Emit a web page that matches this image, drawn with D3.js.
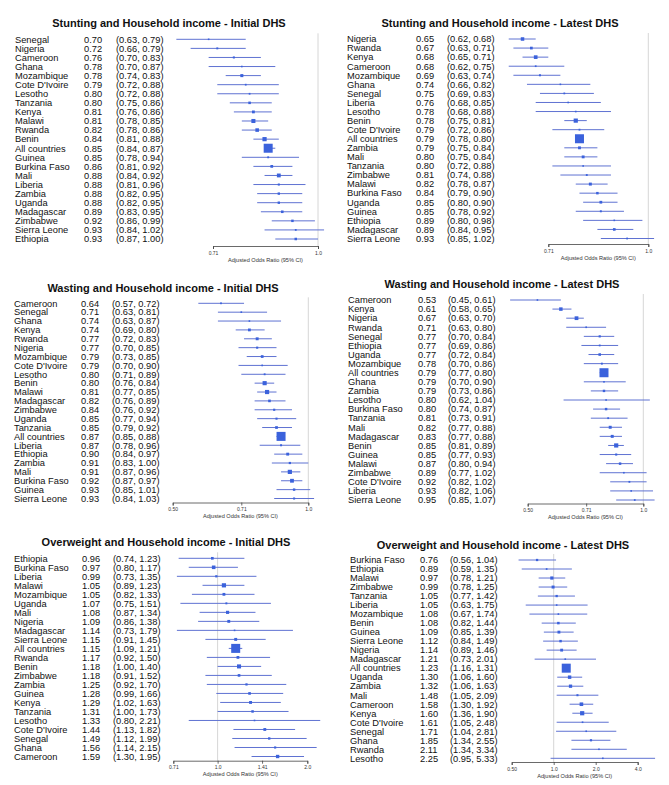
<!DOCTYPE html>
<html><head><meta charset="utf-8">
<script src="https://cdn.jsdelivr.net/npm/d3@7/dist/d3.min.js"></script>
<style>
html,body{margin:0;padding:0;background:#fff;}
svg{display:block;font-family:"Liberation Sans",Arial,sans-serif;}
</style></head>
<body><svg id="chart" width="669" height="785"></svg>
<script>
// ---------- DATA ----------
const stuntInitCountries = ["Senegal","Nigeria","Cameroon","Ghana","Mozambique","Cote D'Ivoire","Lesotho","Tanzania","Kenya","Malawi","Rwanda","Benin","All countries","Guinea","Burkina Faso","Mali","Liberia","Zambia","Uganda","Madagascar","Zimbabwe","Sierra Leone","Ethiopia"];
const stuntInitOR = [0.70,0.72,0.76,0.78,0.78,0.79,0.80,0.80,0.81,0.81,0.82,0.84,0.85,0.85,0.86,0.88,0.88,0.88,0.88,0.89,0.92,0.93,0.93];
const stuntInitLo = [0.63,0.66,0.70,0.70,0.74,0.72,0.72,0.75,0.76,0.78,0.78,0.81,0.84,0.78,0.81,0.84,0.81,0.82,0.82,0.83,0.86,0.84,0.87];
const stuntInitHi = [0.79,0.79,0.83,0.87,0.83,0.88,0.88,0.86,0.86,0.85,0.86,0.88,0.87,0.94,0.92,0.92,0.96,0.95,0.95,0.95,0.99,1.02,1.00];

const stuntLateCountries = ["Nigeria","Rwanda","Kenya","Cameroon","Mozambique","Ghana","Senegal","Liberia","Lesotho","Benin","Cote D'Ivoire","All countries","Zambia","Mali","Tanzania","Zimbabwe","Malawi","Burkina Faso","Uganda","Guinea","Ethiopia","Madagascar","Sierra Leone"];
const stuntLateOR = [0.65,0.67,0.68,0.68,0.69,0.74,0.75,0.76,0.78,0.78,0.79,0.79,0.79,0.80,0.80,0.81,0.82,0.84,0.85,0.85,0.89,0.89,0.93];
const stuntLateLo = [0.62,0.63,0.65,0.62,0.63,0.66,0.69,0.68,0.68,0.75,0.72,0.78,0.75,0.75,0.72,0.74,0.78,0.79,0.80,0.78,0.80,0.84,0.85];
const stuntLateHi = [0.68,0.71,0.71,0.75,0.74,0.82,0.83,0.85,0.88,0.81,0.86,0.80,0.84,0.84,0.88,0.88,0.87,0.90,0.90,0.92,0.98,0.95,1.02];

const wasteInitCountries = ["Cameroon","Senegal","Ghana","Kenya","Rwanda","Nigeria","Mozambique","Cote D'Ivoire","Lesotho","Benin","Malawi","Madagascar","Zimbabwe","Uganda","Tanzania","All countries","Liberia","Ethiopia","Zambia","Mali","Burkina Faso","Guinea","Sierra Leone"];
const wasteInitOR = [0.64,0.71,0.74,0.74,0.77,0.77,0.79,0.79,0.80,0.80,0.81,0.82,0.84,0.85,0.85,0.87,0.87,0.90,0.91,0.91,0.92,0.93,0.93];
const wasteInitLo = [0.57,0.63,0.63,0.69,0.72,0.70,0.73,0.70,0.71,0.76,0.77,0.76,0.76,0.77,0.79,0.85,0.78,0.84,0.83,0.87,0.87,0.85,0.84];
const wasteInitHi = [0.72,0.81,0.87,0.80,0.83,0.85,0.85,0.90,0.89,0.84,0.85,0.89,0.92,0.94,0.92,0.88,0.96,0.97,1.00,0.96,0.97,1.01,1.03];

const wasteLateCountries = ["Cameroon","Kenya","Nigeria","Rwanda","Senegal","Ethiopia","Uganda","Mozambique","All countries","Ghana","Zambia","Lesotho","Burkina Faso","Tanzania","Mali","Madagascar","Benin","Guinea","Malawi","Zimbabwe","Cote D'Ivoire","Liberia","Sierra Leone"];
const wasteLateOR = [0.53,0.61,0.67,0.71,0.77,0.77,0.77,0.78,0.79,0.79,0.79,0.80,0.80,0.81,0.82,0.83,0.85,0.85,0.87,0.89,0.92,0.93,0.95];
const wasteLateLo = [0.45,0.58,0.63,0.63,0.70,0.69,0.72,0.70,0.77,0.70,0.73,0.62,0.74,0.73,0.77,0.77,0.81,0.77,0.80,0.77,0.82,0.82,0.85];
const wasteLateHi = [0.61,0.65,0.70,0.80,0.84,0.86,0.84,0.86,0.80,0.90,0.86,1.04,0.87,0.91,0.88,0.88,0.89,0.93,0.94,1.02,1.02,1.06,1.07];

const overInitCountries = ["Ethiopia","Burkina Faso","Liberia","Malawi","Mozambique","Uganda","Mali","Nigeria","Madagascar","Sierra Leone","All countries","Rwanda","Benin","Zimbabwe","Zambia","Guinea","Kenya","Tanzania","Lesotho","Cote D'Ivoire","Senegal","Ghana","Cameroon"];
const overInitOR = [0.96,0.97,0.99,1.05,1.05,1.07,1.08,1.09,1.14,1.15,1.15,1.17,1.18,1.18,1.25,1.28,1.29,1.31,1.33,1.44,1.49,1.56,1.59];
const overInitLo = [0.74,0.80,0.73,0.89,0.82,0.75,0.87,0.86,0.73,0.91,1.09,0.92,1.00,0.91,0.92,0.99,1.02,1.00,0.80,1.13,1.12,1.14,1.30];
const overInitHi = [1.23,1.17,1.35,1.23,1.33,1.51,1.34,1.38,1.79,1.45,1.21,1.50,1.40,1.52,1.70,1.66,1.63,1.73,2.21,1.82,1.99,2.15,1.95];

const overLateCountries = ["Burkina Faso","Ethiopia","Malawi","Zimbabwe","Tanzania","Liberia","Mozambique","Benin","Guinea","Sierra Leone","Nigeria","Madagascar","All countries","Uganda","Zambia","Mali","Cameroon","Kenya","Cote D'Ivoire","Senegal","Ghana","Rwanda","Lesotho"];
const overLateOR = [0.76,0.89,0.97,0.99,1.05,1.05,1.08,1.08,1.09,1.12,1.14,1.21,1.23,1.30,1.32,1.48,1.58,1.60,1.61,1.71,1.85,2.11,2.25];
const overLateLo = [0.56,0.59,0.78,0.78,0.77,0.63,0.67,0.82,0.85,0.84,0.89,0.73,1.16,1.06,1.06,1.05,1.30,1.36,1.05,1.04,1.34,1.34,0.95];
const overLateHi = [1.04,1.35,1.21,1.25,1.42,1.75,1.74,1.44,1.39,1.49,1.46,2.01,1.31,1.60,1.63,2.09,1.92,1.90,2.48,2.81,2.55,3.34,5.33];

const titles = [
  "Stunting and Household income - Initial DHS",
  "Stunting and Household income - Latest DHS",
  "Wasting and Household income - Initial DHS",
  "Wasting and Household income - Latest DHS",
  "Overweight and Household income - Initial DHS",
  "Overweight and Household income - Latest DHS"
];
const stuntTicks = [0.71, 1.0];
const wasteTicks = [0.50, 0.71, 1.0];
const overInitTicks = [0.71, 1.0, 1.41, 2.0];
const overLateTicks = [0.50, 1.0, 2.0, 4.0];
const stuntTickLabels = ["0.71","1.0"];
const wasteTickLabels = ["0.50","0.71","1.0"];
const overInitTickLabels = ["0.71","1.0","1.41","2.0"];
const overLateTickLabels = ["0.50","1.0","2.0","4.0"];
const axisTitle = "Adjusted Odds Ratio (95% CI)";

// ---------- LAYOUT (positions only) ----------
const layouts = [
  {tx:169, ty:23,  nameX:15,  orX:84,  ciX:116, r0:39.3, r1:239,  axisY:246,  x0:213,   x1:318},
  {tx:500, ty:23,  nameX:347, orX:416, ciX:447, r0:39,   r1:238.5,axisY:244,  x0:548.3, x1:648.3},
  {tx:163, ty:288, nameX:14,  orX:81,  ciX:112, r0:303.3,r1:498.5,axisY:502.5,x0:172.7, x1:308.3},
  {tx:502, ty:284, nameX:348, orX:418, ciX:448, r0:300,  r1:500,  axisY:503.5,x0:527.7, x1:643.3},
  {tx:166, ty:542, nameX:14,  orX:82,  ciX:113, r0:558.3,r1:756.5,axisY:760.7,x0:173.3, x1:307.3},
  {tx:503, ty:545, nameX:350, orX:420, ciX:450, r0:560,  r1:758.3,axisY:762,  x0:511.7, x1:637.7}
];

const panels = [
  {names:stuntInitCountries, or:stuntInitOR, lo:stuntInitLo, hi:stuntInitHi, ticks:stuntTicks, tl:stuntTickLabels},
  {names:stuntLateCountries, or:stuntLateOR, lo:stuntLateLo, hi:stuntLateHi, ticks:stuntTicks, tl:stuntTickLabels},
  {names:wasteInitCountries, or:wasteInitOR, lo:wasteInitLo, hi:wasteInitHi, ticks:wasteTicks, tl:wasteTickLabels},
  {names:wasteLateCountries, or:wasteLateOR, lo:wasteLateLo, hi:wasteLateHi, ticks:wasteTicks, tl:wasteTickLabels},
  {names:overInitCountries, or:overInitOR, lo:overInitLo, hi:overInitHi, ticks:overInitTicks, tl:overInitTickLabels},
  {names:overLateCountries, or:overLateOR, lo:overLateLo, hi:overLateHi, ticks:overLateTicks, tl:overLateTickLabels}
];

const svg = d3.select("#chart");
const f2 = d3.format(".2f");
const lineColor = "#5f72d2";
const boxColor = "#3b62dc";

panels.forEach((p, pi) => {
  const L = layouts[pi];
  const g = svg.append("g");
  const n = p.names.length;
  const rows = p.names.map((name, i) => ({name, or:p.or[i], lo:p.lo[i], hi:p.hi[i], i}));
  const x = d3.scaleLog().domain([p.ticks[0], p.ticks[p.ticks.length-1]]).range([L.x0, L.x1]);
  const y = d3.scaleLinear().domain([0, n-1]).range([L.r0, L.r1]);

  // box size from inverse CI width (precision weight)
  const countryWidths = rows.filter(r => r.name !== "All countries").map(r => Math.log(r.hi / r.lo));
  const wmin = d3.min(countryWidths);
  const size = d3.scaleLinear().domain([0, 1]).range([0, 4.2]);

  g.append("text").attr("x", L.tx).attr("y", L.ty + 4)
    .attr("text-anchor", "middle").attr("font-weight", "bold").attr("font-size", 11)
    .attr("fill", "#111").text(titles[pi]);

  // null line at 1.0
  g.append("line").attr("x1", x(1)).attr("x2", x(1))
    .attr("y1", L.r0 - 6).attr("y2", L.axisY)
    .attr("stroke", "#d6d6d6").attr("stroke-width", 1);

  const row = g.selectAll("g.row").data(rows).join("g").attr("class", "row");
  row.append("text").attr("x", L.nameX).attr("y", d => y(d.i) + 3.3)
    .attr("font-size", 9.3).attr("fill", "#111").text(d => d.name);
  row.append("text").attr("x", L.orX).attr("y", d => y(d.i) + 3.3)
    .attr("font-size", 9.3).attr("fill", "#111").text(d => f2(d.or));
  row.append("text").attr("x", L.ciX).attr("y", d => y(d.i) + 3.3)
    .attr("font-size", 9.3).attr("fill", "#111").text(d => "(" + f2(d.lo) + ", " + f2(d.hi) + ")");

  row.append("line").attr("x1", d => x(d.lo)).attr("x2", d => x(d.hi))
    .attr("y1", d => y(d.i)).attr("y2", d => y(d.i))
    .attr("stroke", lineColor).attr("stroke-width", 1);

  row.append("rect")
    .each(function(d) {
      const s = d.name === "All countries" ? 9 : Math.max(1.6, size(wmin / Math.log(d.hi / d.lo)));
      d3.select(this).attr("x", x(d.or) - s/2).attr("y", y(d.i) - s/2).attr("width", s).attr("height", s);
    })
    .attr("fill", boxColor);

  // axis
  const axis = d3.axisBottom(x).tickValues(p.ticks).tickFormat((v, i) => p.tl[i]).tickSizeOuter(0).tickSize(3).tickPadding(2);
  const ag = g.append("g").attr("transform", `translate(0,${L.axisY})`).call(axis);
  ag.select(".domain").attr("stroke", "#444").attr("stroke-width", 0.8);
  ag.selectAll(".tick line").attr("stroke", "#444").attr("stroke-width", 0.8);
  ag.selectAll(".tick text").attr("font-size", 5).attr("fill", "#333")
    .attr("font-family", "'Liberation Sans',Arial,sans-serif");

  g.append("text").attr("x", (L.x0 + L.x1) / 2).attr("y", L.axisY + 15.5)
    .attr("text-anchor", "middle").attr("font-size", 5.6).attr("fill", "#333").text(axisTitle);
});
</script>
</body></html>
